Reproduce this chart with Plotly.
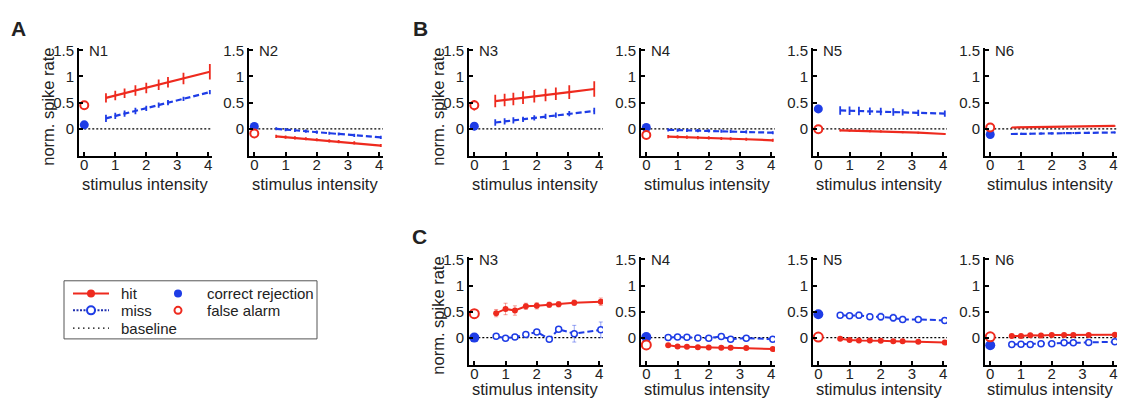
import plotly.graph_objects as go

W, H = 1126, 398

# ---------------- data ----------------
X = [0.7, 1.0, 1.3, 1.65, 2.0, 2.4, 2.7, 3.2, 4.05]
X_N3B = [0.67, 0.97, 1.25, 1.56, 1.92, 2.28, 2.61, 3.04, 3.84]
X_TICKS = [0, 1, 2, 3, 4]
Y_TICKS = [0, 0.5, 1, 1.5]
Y_TICK_TEXT = ["0", "0.5", "1", "1.5"]

# Panel A
A_N1_hit = [0.59, 0.635, 0.68, 0.73, 0.78, 0.84, 0.89, 0.96, 1.09]
A_N1_hit_err = [0.09, 0.09, 0.09, 0.10, 0.10, 0.10, 0.10, 0.11, 0.15]
A_N1_miss = [0.20, 0.245, 0.29, 0.34, 0.39, 0.45, 0.50, 0.57, 0.70]
A_N1_miss_err = [0.07, 0.06, 0.06, 0.06, 0.05, 0.05, 0.05, 0.04, 0.04]
A_N2_hit = [-0.145, -0.16, -0.175, -0.19, -0.21, -0.23, -0.245, -0.27, -0.32]
A_N2_hit_err = [0.03] * 9
A_N2_miss = [0.0, -0.015, -0.03, -0.045, -0.065, -0.085, -0.10, -0.125, -0.165]
A_N2_miss_err = [0.03] * 9
A_CR = [0.075, 0.045]
A_CR_err = [0.06, 0.03]
A_FA = [0.45, -0.09]
A_FA_err = [0.06, 0.03]

# Panel B
B_N3_hit = [0.53, 0.55, 0.57, 0.595, 0.62, 0.645, 0.67, 0.70, 0.76]
B_N3_hit_err = [0.12, 0.12, 0.12, 0.12, 0.12, 0.12, 0.12, 0.13, 0.15]
B_N3_miss = [0.12, 0.14, 0.16, 0.18, 0.21, 0.235, 0.26, 0.29, 0.34]
B_N3_miss_err = [0.06, 0.06, 0.06, 0.05, 0.05, 0.05, 0.05, 0.05, 0.06]
B_N4_hit = [-0.15, -0.155, -0.16, -0.17, -0.175, -0.185, -0.19, -0.20, -0.22]
B_N4_hit_err = [0.03] * 9
B_N4_miss = [-0.02, -0.025, -0.03, -0.035, -0.04, -0.045, -0.05, -0.06, -0.075]
B_N4_miss_err = [0.03] * 9
B_N5_hit = [-0.03, -0.035, -0.04, -0.045, -0.05, -0.06, -0.065, -0.075, -0.10]
B_N5_hit_err = [0.02] * 9
B_N5_miss = [0.35, 0.345, 0.34, 0.335, 0.33, 0.32, 0.315, 0.305, 0.29]
B_N5_miss_err = [0.08, 0.08, 0.08, 0.07, 0.07, 0.07, 0.06, 0.06, 0.06]
B_N6_hit = [0.025, 0.028, 0.03, 0.033, 0.037, 0.04, 0.043, 0.047, 0.055]
B_N6_hit_err = [0.01] * 9
B_N6_miss = [-0.10, -0.097, -0.094, -0.09, -0.087, -0.083, -0.08, -0.076, -0.07]
B_N6_miss_err = [0.02] * 9
B_CR = [0.05, 0.025, 0.38, -0.11]
B_CR_err = [0.08, 0.03, 0.08, 0.03]
B_FA = [0.45, -0.12, -0.01, 0.025]
B_FA_err = [0.10, 0.03, 0.03, 0.02]

# Panel C
C_N3_hit = [0.47, 0.55, 0.52, 0.60, 0.61, 0.63, 0.64, 0.67, 0.69]
C_N3_hit_err = [0.07, 0.11, 0.09, 0.06, 0.06, 0.05, 0.05, 0.05, 0.07]
C_N3_miss = [0.025, -0.01, 0.01, 0.06, 0.11, -0.03, 0.16, 0.075, 0.15]
C_N3_miss_err = [0.03, 0.03, 0.03, 0.03, 0.04, 0.04, 0.05, 0.16, 0.15]
C_N4_hit = [-0.145, -0.17, -0.175, -0.185, -0.19, -0.195, -0.195, -0.20, -0.22]
C_N4_hit_err = [0.02] * 9
C_N4_miss = [0.0, 0.01, 0.005, -0.005, -0.01, 0.02, -0.03, -0.01, -0.03]
C_N4_miss_err = [0.02] * 9
C_N5_hit = [-0.02, -0.045, -0.055, -0.055, -0.06, -0.07, -0.07, -0.08, -0.095]
C_N5_hit_err = [0.02] * 9
C_N5_miss = [0.43, 0.42, 0.43, 0.40, 0.40, 0.38, 0.35, 0.35, 0.33]
C_N5_miss_err = [0.04, 0.04, 0.06, 0.05, 0.07, 0.07, 0.06, 0.03, 0.04]
C_N6_hit = [0.03, 0.03, 0.045, 0.04, 0.05, 0.05, 0.05, 0.05, 0.055]
C_N6_hit_err = [0.01] * 9
C_N6_miss = [-0.13, -0.125, -0.13, -0.12, -0.12, -0.10, -0.10, -0.095, -0.08]
C_N6_miss_err = [0.015] * 9
C_CR = [0.0, 0.01, 0.45, -0.145]
C_FA = [0.46, -0.14, 0.01, 0.015]

NAMES_A = ["N1", "N2"]
NAMES_BC = ["N3", "N4", "N5", "N6"]

# ---------------- style / layout ----------------
RED = "#EE2A1E"
BLUE = "#1E3CE6"
RED_T = "rgba(238,42,30,0.45)"
BLUE_T = "rgba(30,60,230,0.45)"
FONT = "Liberation Sans, Arial, Helvetica, sans-serif"
TXT = "#222222"
X_RANGE = [-0.17, 4.12]
Y_RANGE = [-0.52, 1.55]

# pixel extents of each axis box
A_X_PX = [(79, 212), (249, 383)]
BC_X_PX = [(469, 603), (641, 775), (813, 947), (985, 1117)]
ROW1_Y_PX = (42.3, 152.3)
ROWC_Y_PX = (254.7, 364.2)


def fx(p):
    return p / W


def fy(p):
    return 1 - p / H


panels = []
for i, nm in enumerate(NAMES_A):
    hit = [A_N1_hit, A_N2_hit][i]
    hite = [A_N1_hit_err, A_N2_hit_err][i]
    miss = [A_N1_miss, A_N2_miss][i]
    misse = [A_N1_miss_err, A_N2_miss_err][i]
    panels.append(dict(name=nm, xpx=A_X_PX[i], ypx=ROW1_Y_PX, x=X, hit=hit, hit_err=hite,
                       miss=miss, miss_err=misse, cr=A_CR[i], cr_err=A_CR_err[i],
                       fa=A_FA[i], fa_err=A_FA_err[i], style="bar", ytitle=(i == 0), tgap=28))
B_hits = [B_N3_hit, B_N4_hit, B_N5_hit, B_N6_hit]
B_hits_e = [B_N3_hit_err, B_N4_hit_err, B_N5_hit_err, B_N6_hit_err]
B_miss = [B_N3_miss, B_N4_miss, B_N5_miss, B_N6_miss]
B_miss_e = [B_N3_miss_err, B_N4_miss_err, B_N5_miss_err, B_N6_miss_err]
for i, nm in enumerate(NAMES_BC):
    panels.append(dict(name=nm, xpx=BC_X_PX[i], ypx=ROW1_Y_PX, x=(X_N3B if i == 0 else X),
                       hit=B_hits[i], hit_err=B_hits_e[i], miss=B_miss[i], miss_err=B_miss_e[i],
                       cr=B_CR[i], cr_err=B_CR_err[i], fa=B_FA[i], fa_err=B_FA_err[i],
                       style="bar", ytitle=(i == 0), tgap=28))
C_hits = [C_N3_hit, C_N4_hit, C_N5_hit, C_N6_hit]
C_hits_e = [C_N3_hit_err, C_N4_hit_err, C_N5_hit_err, C_N6_hit_err]
C_miss = [C_N3_miss, C_N4_miss, C_N5_miss, C_N6_miss]
C_miss_e = [C_N3_miss_err, C_N4_miss_err, C_N5_miss_err, C_N6_miss_err]
for i, nm in enumerate(NAMES_BC):
    panels.append(dict(name=nm, xpx=BC_X_PX[i], ypx=ROWC_Y_PX, x=X,
                       hit=C_hits[i], hit_err=C_hits_e[i], miss=C_miss[i], miss_err=C_miss_e[i],
                       cr=C_CR[i], cr_err=None, fa=C_FA[i], fa_err=None,
                       style="marker", ytitle=(i == 0), tgap=25))

fig = go.Figure()
layout = dict(width=W, height=H, margin=dict(l=0, r=0, t=0, b=0), autosize=False,
              paper_bgcolor="white", plot_bgcolor="white", showlegend=False,
              font=dict(family=FONT, color=TXT, size=15))
annotations = []
shapes = []

for k, p in enumerate(panels, start=1):
    xa = "x" if k == 1 else f"x{k}"
    ya = "y" if k == 1 else f"y{k}"
    xkey = "xaxis" if k == 1 else f"xaxis{k}"
    ykey = "yaxis" if k == 1 else f"yaxis{k}"
    x0, x1 = p["xpx"]
    yt, yb = p["ypx"]
    layout[xkey] = dict(domain=[fx(x0), fx(x1)], anchor=ya, range=X_RANGE, tickvals=X_TICKS,
                        showline=True, linewidth=2, linecolor="black", ticks="inside",
                        ticklen=4, tickwidth=1.5, tickcolor="black", showgrid=False,
                        zeroline=False, ticklabelstandoff=-6,
                        tickfont=dict(size=15, family=FONT, color=TXT))
    layout[ykey] = dict(domain=[fy(yb), fy(yt)], anchor=xa, range=Y_RANGE, tickvals=Y_TICKS,
                        ticktext=Y_TICK_TEXT, showline=True, linewidth=2, linecolor="black",
                        ticks="inside", ticklen=4, tickwidth=1.5, tickcolor="black",
                        showgrid=False, zeroline=False,
                        tickfont=dict(size=15, family=FONT, color=TXT))
    # baseline
    fig.add_trace(go.Scatter(x=[0, X_RANGE[1]], y=[0, 0], mode="lines", xaxis=xa, yaxis=ya,
                             line=dict(color="black", width=1.3, dash="2px,2px"), hoverinfo="skip"))
    if p["style"] == "bar":
        fig.add_trace(go.Scatter(x=p["x"], y=p["miss"], mode="lines", xaxis=xa, yaxis=ya,
                                 line=dict(color=BLUE, width=2.2, dash="6px,3px"),
                                 error_y=dict(type="data", array=p["miss_err"], color=BLUE,
                                              thickness=1.8, width=0)))
        fig.add_trace(go.Scatter(x=p["x"], y=p["hit"], mode="lines", xaxis=xa, yaxis=ya,
                                 line=dict(color=RED, width=2.2),
                                 error_y=dict(type="data", array=p["hit_err"], color=RED,
                                              thickness=1.8, width=0)))
        fig.add_trace(go.Scatter(x=[0], y=[p["cr"]], mode="markers", xaxis=xa, yaxis=ya,
                                 marker=dict(color=BLUE, size=9),
                                 error_y=dict(type="data", array=[p["cr_err"]], color=BLUE,
                                              thickness=1.8, width=0)))
        fig.add_trace(go.Scatter(x=[0], y=[p["fa"]], mode="markers", xaxis=xa, yaxis=ya,
                                 marker=dict(color="white", size=8, line=dict(color=RED, width=2)),
                                 error_y=dict(type="data", array=[p["fa_err"]], color=RED,
                                              thickness=1.8, width=0)))
    else:
        fig.add_trace(go.Scatter(x=p["x"], y=p["miss"], mode="lines+markers", xaxis=xa, yaxis=ya,
                                 line=dict(color=BLUE, width=2, dash="6px,3px"),
                                 marker=dict(color="white", size=6, line=dict(color=BLUE, width=1.5)),
                                 error_y=dict(type="data", array=p["miss_err"], color=BLUE_T,
                                              thickness=1, width=2)))
        fig.add_trace(go.Scatter(x=p["x"], y=p["hit"], mode="lines+markers", xaxis=xa, yaxis=ya,
                                 line=dict(color=RED, width=2),
                                 marker=dict(color=RED, size=6),
                                 error_y=dict(type="data", array=p["hit_err"], color=RED_T,
                                              thickness=1, width=2)))
        fig.add_trace(go.Scatter(x=[0], y=[p["cr"]], mode="markers", xaxis=xa, yaxis=ya,
                                 marker=dict(color=BLUE, size=10)))
        fig.add_trace(go.Scatter(x=[0], y=[p["fa"]], mode="markers", xaxis=xa, yaxis=ya,
                                 marker=dict(color="white", size=9, line=dict(color=RED, width=2))))

    # neuron label
    annotations.append(dict(text=p["name"], x=fx(x0 + 8), y=fy(yt + 3), xref="paper", yref="paper",
                            xanchor="left", yanchor="middle", showarrow=False,
                            font=dict(size=15, family=FONT, color=TXT)))
    # x-axis title
    annotations.append(dict(text="stimulus intensity", x=fx((x0 + x1) / 2 - 1), y=fy(yb + p["tgap"]),
                            xref="paper", yref="paper", xanchor="center", yanchor="middle",
                            showarrow=False, font=dict(size=16.5, family=FONT, color=TXT)))
    if p["ytitle"]:
        annotations.append(dict(text="norm. spike rate", x=fx(x0 - 31), y=fy((yt + yb) / 2 + 5),
                                xref="paper", yref="paper", xanchor="center", yanchor="middle",
                                textangle=-90, showarrow=False,
                                font=dict(size=16.5, family=FONT, color=TXT)))

# panel letters
for letter, (lx, ly) in zip(["A", "B", "C"], [(18, 23), (420, 23), (419, 234)]):
    annotations.append(dict(text=f"<b>{letter}</b>", x=fx(lx), y=fy(ly), xref="paper", yref="paper",
                            xanchor="center", yanchor="middle", showarrow=False,
                            font=dict(size=21, family=FONT, color=TXT)))

# ---------------- legend (helper axis in pixel units) ----------------
LEG_BOX = (64, 279, 317, 338)
LEG_ROWS = [292, 309, 327]
LEG_LINE = (73, 109)
LEG_TEXT_X = [119, 205]
LEG_MARK_X = 178
kl = len(panels) + 1
layout[f"xaxis{kl}"] = dict(domain=[fx(LEG_BOX[0]), fx(LEG_BOX[2])], range=[LEG_BOX[0], LEG_BOX[2]],
                            visible=False, anchor=f"y{kl}", fixedrange=True)
layout[f"yaxis{kl}"] = dict(domain=[fy(LEG_BOX[3]), fy(LEG_BOX[1])], range=[LEG_BOX[3], LEG_BOX[1]],
                            visible=False, anchor=f"x{kl}", fixedrange=True)
lxa, lya = f"x{kl}", f"y{kl}"
mid = (LEG_LINE[0] + LEG_LINE[1]) / 2
fig.add_trace(go.Scatter(x=list(LEG_LINE), y=[LEG_ROWS[0]] * 2, mode="lines", xaxis=lxa, yaxis=lya,
                         line=dict(color=RED, width=2)))
fig.add_trace(go.Scatter(x=[mid], y=[LEG_ROWS[0]], mode="markers", xaxis=lxa, yaxis=lya,
                         marker=dict(color=RED, size=8)))
fig.add_trace(go.Scatter(x=list(LEG_LINE), y=[LEG_ROWS[1]] * 2, mode="lines", xaxis=lxa, yaxis=lya,
                         line=dict(color="#2030B0", width=2, dash="2px,1.5px")))
fig.add_trace(go.Scatter(x=[mid], y=[LEG_ROWS[1]], mode="markers", xaxis=lxa, yaxis=lya,
                         marker=dict(color="white", size=8, line=dict(color=BLUE, width=2))))
fig.add_trace(go.Scatter(x=list(LEG_LINE), y=[LEG_ROWS[2]] * 2, mode="lines", xaxis=lxa, yaxis=lya,
                         line=dict(color="black", width=1.2, dash="1.5px,3.5px")))
fig.add_trace(go.Scatter(x=[LEG_MARK_X], y=[LEG_ROWS[0]], mode="markers", xaxis=lxa, yaxis=lya,
                         marker=dict(color=BLUE, size=8)))
fig.add_trace(go.Scatter(x=[LEG_MARK_X], y=[LEG_ROWS[1]], mode="markers", xaxis=lxa, yaxis=lya,
                         marker=dict(color="white", size=7, line=dict(color=RED, width=2))))
shapes.append(dict(type="rect", xref="paper", yref="paper", x0=fx(LEG_BOX[0]), x1=fx(LEG_BOX[2]),
                   y0=fy(LEG_BOX[3]), y1=fy(LEG_BOX[1]), line=dict(color="#555555", width=1)))
for txt, tx, ty in [("hit", LEG_TEXT_X[0], LEG_ROWS[0]), ("miss", LEG_TEXT_X[0], LEG_ROWS[1]),
                    ("baseline", LEG_TEXT_X[0], LEG_ROWS[2]),
                    ("correct rejection", LEG_TEXT_X[1], LEG_ROWS[0]),
                    ("false alarm", LEG_TEXT_X[1], LEG_ROWS[1])]:
    annotations.append(dict(text=txt, x=fx(tx), y=fy(ty), xref="paper", yref="paper",
                            xanchor="left", yanchor="middle", showarrow=False,
                            font=dict(size=15, family=FONT, color=TXT)))

layout["annotations"] = annotations
layout["shapes"] = shapes
fig.update_layout(**layout)
fig.write_html("out.html", config={"displayModeBar": False},
               post_script="document.body.style.margin='0px';document.body.style.padding='0px';"
                           "document.documentElement.style.overflow='hidden';")
